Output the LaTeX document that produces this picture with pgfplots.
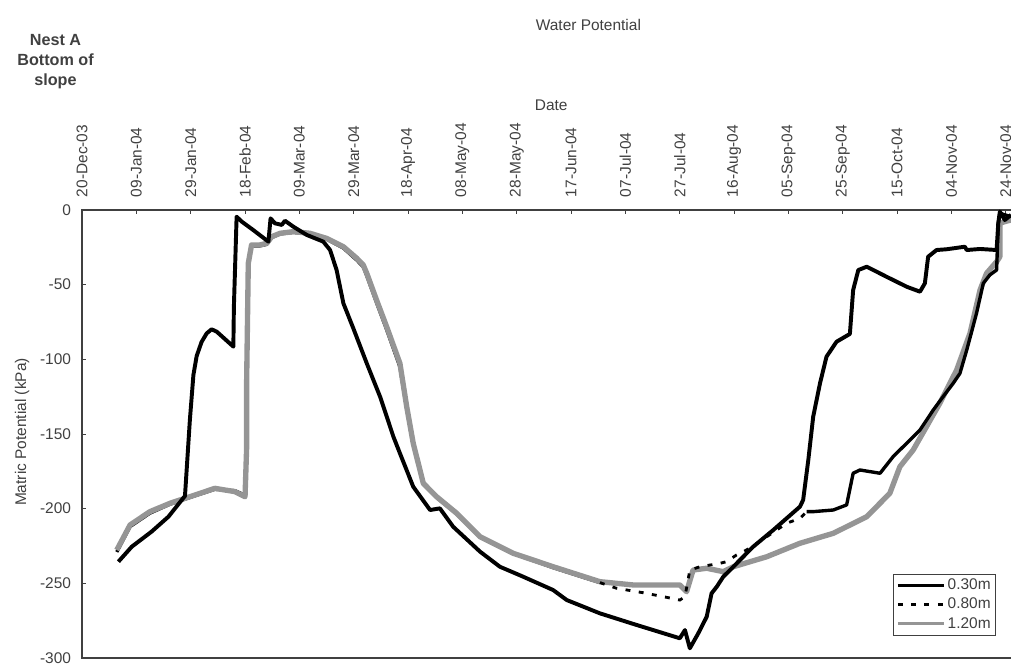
\documentclass[border=0pt]{standalone}
\usepackage{pgfplots}
\pgfplotsset{compat=1.18}
\usepackage{fontspec}
\setmainfont{Liberation Sans}
\definecolor{txt}{HTML}{404040}
\definecolor{g120}{HTML}{959595}
\begin{document}
\begin{tikzpicture}
\useasboundingbox (-2.05,-0.275) rectangle (23.225,16.45);
\begin{axis}[
  at={(0,0)}, anchor=south west,
  scale only axis, width=23.3cm, height=11.2cm,
  xmin=0, xmax=343, ymin=-300, ymax=0,
  font=\fontsize{11}{13}\selectfont\color{txt},
  /pgf/number format/assume math mode=true,
  xtick={0,20,...,340},
  xticklabels={20-Dec-03,09-Jan-04,29-Jan-04,18-Feb-04,09-Mar-04,29-Mar-04,18-Apr-04,08-May-04,28-May-04,17-Jun-04,07-Jul-04,27-Jul-04,16-Aug-04,05-Sep-04,25-Sep-04,15-Oct-04,04-Nov-04,24-Nov-04},
  xtick pos=right, xticklabel pos=right,
  xticklabel style={rotate=90, anchor=west},
  xticklabel shift=0.2cm,
  ytick={-300,-250,...,0},
  ytick pos=left,
  yticklabel shift=0.15cm,
  major tick length=0.1cm,
  tick style={black!75, line width=0.6pt},
  axis line style={black!75, line width=0.8pt},
  legend style={at={(0.9807,0.0498)}, anchor=south east, draw=black!75, line width=0.6pt,
    font=\fontsize{11}{13}\selectfont\color{txt}, inner xsep=2pt, inner ysep=2pt,
    nodes={inner sep=1.5pt}, row sep=1.5pt},
  legend cell align=left,
  legend image code/.code={\draw[#1] (0cm,0cm) -- (1.15cm,0cm);},
]
\addlegendimage{black, line width=2.6pt}
\addlegendentry{0.30m}
\addlegendimage{black, line width=2pt, dash pattern=on 3.5pt off 6pt}
\addlegendentry{0.80m}
\addlegendimage{g120, line width=2pt}
\addlegendentry{1.20m}

% 0.80m, part hidden under the 1.20m curve
\addplot[forget plot, black, line width=2.4pt] coordinates {
(12.8,-229) (17.7,-212) (25.0,-203) (32.4,-197) (39.7,-192.5) (48.9,-187) (56.3,-188) (60.0,-191)
(60.6,-158) (60.6,-114) (61.2,-36) (62.4,-24) (65.5,-24) (68.0,-23) (69.8,-18.5) (72.9,-16)
(77.8,-15) (83.9,-16) (90.0,-19.5) (96.2,-25.5) (101.1,-33.5) (103.5,-38) (104.8,-44)
(108.4,-62) (112.1,-80) (117.0,-105) (119.5,-133) (121.9,-157) (125.6,-183.5) (130.5,-192.5)
(137.9,-203.5) (146.5,-219) (158.7,-230) (173.4,-239.5) (190.6,-249.5)
};

% 1.20m
\addplot[forget plot, g120, line width=3.8pt, line join=round] coordinates {
(12.8,-227.7) (17.7,-210.9) (25.0,-202.0) (32.4,-196.4) (39.7,-192.0) (48.9,-186.4) (56.3,-188.6)
(60.0,-192.0) (60.6,-158.5) (60.6,-113.8) (61.2,-35.7) (62.4,-23.4) (65.5,-23.4) (68.0,-22.3)
(69.8,-17.9) (72.9,-15.6) (77.8,-14.5) (83.9,-15.6) (90.0,-19.0) (96.2,-24.6) (101.1,-32.3)
(103.5,-36.8) (104.8,-42.4) (108.4,-60.3) (112.1,-78.1) (117.0,-102.7) (119.5,-131.7)
(121.9,-156.2) (125.6,-183.0) (130.5,-192.0) (137.9,-203.1) (146.5,-218.8) (158.7,-229.9)
(173.4,-238.9) (190.6,-248.9) (202.9,-251.1) (220.0,-251.1) (222.5,-255.6) (224.9,-241.1)
(229.9,-239.9) (236.0,-242.2) (239.7,-238.9) (252.0,-232.2) (264.2,-223.2) (276.5,-216.5)
(288.8,-205.4) (297.3,-189.7) (301.0,-171.9) (305.9,-160.7) (315.7,-129.4) (321.9,-107.1)
(326.8,-82.6) (330.5,-53.6) (332.9,-42.4) (336.6,-34.6) (337.8,-31.3) (337.8,-8.9)
(339.6,-7.8) (341.9,-6.7)
};

% 0.30m
\addplot[forget plot, black, line width=2.8pt, line join=round] coordinates {
(13.4,-235.5) (18.3,-225.5) (25.6,-215.4) (31.8,-205.4) (37.9,-191.5) (39.7,-140.6)
(41.0,-110.5) (42.2,-97.8) (44.0,-88.4) (45.9,-82.6) (47.7,-79.9) (49.6,-81.5) (55.7,-91.5)
(55.9,-64.8) (56.9,-4.5) (58.8,-7.8) (63.0,-13.4) (68.6,-21.2) (69.4,-5.6) (71.0,-8.9)
(73.5,-10.0) (74.7,-7.2) (77.8,-11.2) (82.7,-16.7) (88.8,-21.2) (91.3,-26.8) (93.7,-40.2)
(96.2,-62.5) (99.8,-79.0) (104.8,-102.7) (109.7,-125.0) (114.6,-151.8) (117.0,-162.9)
(121.9,-185.3) (128.1,-200.9) (131.7,-199.8) (136.6,-212.1) (146.5,-228.8) (153.8,-238.9)
(162.4,-245.6) (173.4,-254.5) (178.4,-261.2) (190.6,-270.1) (202.9,-277.2) (220.0,-286.8)
(221.9,-281.3) (223.7,-293.5) (226.8,-283.5) (229.9,-272.4) (231.7,-256.7) (233.6,-252.3)
(236.0,-245.6) (239.7,-238.9) (247.0,-225.5) (254.4,-214.3) (264.2,-198.7) (265.4,-194.2)
(267.3,-167.4) (269.1,-138.4) (271.6,-116.1) (274.0,-98.2) (277.7,-88.2) (282.6,-83.0)
(283.8,-53.6) (285.7,-40.2) (288.8,-38.0) (296.1,-44.7) (303.5,-51.4) (308.4,-54.7)
(310.2,-49.1) (311.4,-31.3) (314.5,-26.8) (318.2,-26.3) (324.9,-24.6) (325.6,-26.8)
(330.5,-26.1) (336.6,-26.8) (337.2,-8.9) (337.8,-1.1) (339.6,-6.7) (341.9,-3.3)
};

% 0.80m, visible dashed part
\addplot[forget plot, black, line width=2pt, dash pattern=on 3.5pt off 6pt] coordinates {
(190.6,-249.5) (193.1,-251.1) (196.7,-253.3) (206.5,-256.3) (215.2,-259.4) (220.0,-261.2)
(221.9,-259.0) (223.7,-241.1) (227.4,-238.9) (234.8,-236.6) (237.2,-235.5) (240.9,-231.0)
(245.8,-226.5) (252.0,-218.8) (259.3,-209.8) (264.2,-206.5) (266.7,-202.0)
};
% 0.80m, dense part (appears solid)
\addplot[forget plot, black, line width=2.4pt, line join=round] coordinates {
(266.7,-202.0) (269.1,-202.0) (276.5,-200.9) (281.4,-197.5) (283.8,-176.3) (286.3,-174.1)
(293.7,-176.3) (298.5,-165.2) (303.5,-156.2) (308.4,-147.3) (313.3,-133.9) (316.9,-125.0)
(320.6,-116.1) (323.1,-109.4) (325.6,-93.8) (329.2,-69.2) (331.7,-49.1) (334.1,-43.5)
(336.6,-40.2) (337.2,-8.9) (337.8,-2.2) (341.9,-4.5)
};
\end{axis}
\node[font=\fontsize{11}{13}\selectfont, text=txt] at (12.66,15.825) {Water Potential};
\node[font=\fontsize{11}{13}\selectfont, text=txt] at (11.73,13.825) {Date};
\node[font=\fontsize{11.5}{14.2}\selectfont\bfseries, text=txt, align=center] at (-0.6625,14.9)
  {Nest A\\Bottom of\\slope};
\node[font=\fontsize{11}{13}\selectfont, text=txt, rotate=90] at (-1.5,5.65) {Matric Potential (kPa)};
\end{tikzpicture}
\end{document}
